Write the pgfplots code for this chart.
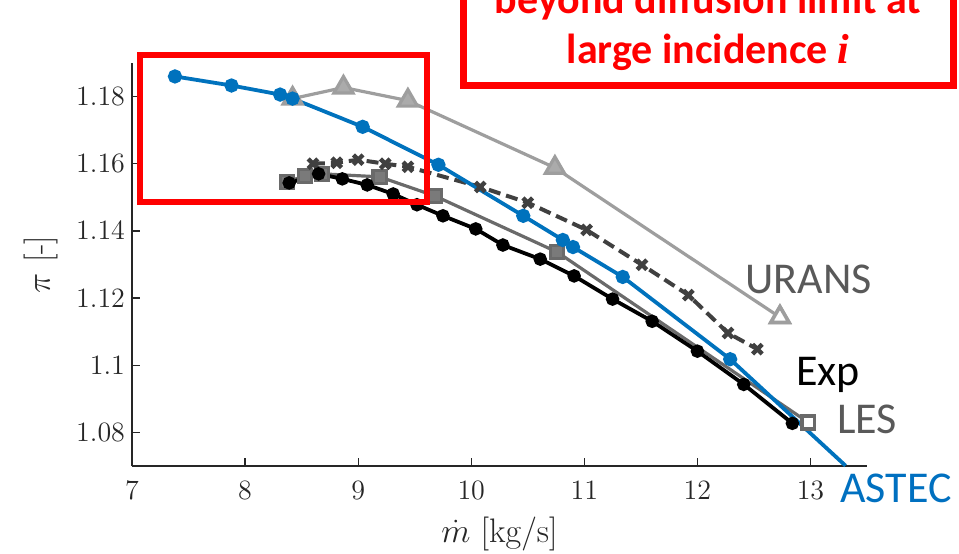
\RequirePackage{fix-cm}
\documentclass[border=0pt]{standalone}
\usepackage{fontspec}
\usepackage{pgfplots}
\pgfplotsset{compat=1.18}
\newfontfamily\carlito{Carlito}
\newfontfamily\serifi{Liberation Serif}

\definecolor{astec}{HTML}{0072BD}
\definecolor{astectxt}{HTML}{0070C0}
\definecolor{lesgray}{HTML}{6A6A6A}
\definecolor{lesfill}{HTML}{7A7A7A}
\definecolor{uransgray}{HTML}{9E9E9E}
\definecolor{uransfill}{HTML}{ABABAB}
\definecolor{darkdash}{HTML}{404040}
\definecolor{axgray}{HTML}{262626}
\definecolor{txtgray}{HTML}{595959}

\begin{document}
\begin{tikzpicture}
\begin{axis}[
  name=ax,
  scale only axis,
  width=367.5pt, height=201.5pt,
  xmin=7, xmax=13.5, ymin=1.07, ymax=1.19,
  axis x line*=bottom, axis y line*=left,
  axis line style={axgray, line width=0.6pt},
  xtick={7,8,9,10,11,12,13},
  ytick={1.08,1.1,1.12,1.14,1.16,1.18},
  tick align=inside,
  major tick length=4pt,
  tick style={axgray, line width=0.6pt},
  ticklabel style={font=\fontsize{14}{16}\selectfont, text=axgray},
  xticklabel style={yshift=-4pt},
  xlabel={$\dot{m}$ [kg/s]},
  ylabel={$\pi$ [-]},
  every axis x label/.style={at={(rel axis cs:0.5,-0.191)}, anchor=base,
    font=\fontsize{17}{20}\selectfont, text=axgray},
  every axis y label/.style={at={(rel axis cs:-0.1116,0.5)}, rotate=90, anchor=base,
    font=\fontsize{17}{20}\selectfont, text=axgray},
  clip=false,
]
% URANS
\addplot[uransgray, line width=1.6pt, mark=triangle*, mark size=5.5pt,
  mark options={fill=uransfill}] coordinates {
  (8.42,1.1794) (8.87,1.1827) (9.44,1.1788) (10.74,1.1588) (12.73,1.1143)};
\addplot[uransgray, line width=1.7pt, only marks, mark=triangle*, mark size=5.2pt,
  mark options={fill=white}] coordinates {(12.73,1.1143)};
% LES
\addplot[lesgray, line width=1.6pt, mark=square*, mark size=3.3pt,
  mark options={fill=lesfill}] coordinates {
  (8.37,1.1546) (8.53,1.1564) (8.68,1.1570) (9.19,1.1561) (9.68,1.1504)
  (10.76,1.1337) (12.98,1.0830)};
\addplot[lesgray, line width=1.7pt, only marks, mark=square*, mark size=3pt,
  mark options={fill=white}] coordinates {(12.98,1.0830)};
% dashed series
\addplot[darkdash, line width=2pt, dash pattern=on 6pt off 3pt, mark=x, mark size=3.4pt,
  mark options={solid, line width=2.2pt}] coordinates {
  (8.60,1.1600) (8.81,1.1603) (9.00,1.1612) (9.24,1.1600) (9.44,1.1591)
  (10.08,1.1531) (10.50,1.1484) (11.02,1.1403) (11.51,1.1299) (11.92,1.1209)
  (12.27,1.1096) (12.53,1.1048)};
% Exp
\addplot[black, line width=1.9pt, mark=*, mark size=2.4pt] coordinates {
  (8.39,1.1543) (8.65,1.1570) (8.86,1.1555) (9.08,1.1537) (9.31,1.1510)
  (9.52,1.1478) (9.75,1.1445) (10.04,1.1406) (10.28,1.1358) (10.61,1.1316)
  (10.91,1.1266) (11.25,1.1197) (11.60,1.1131) (12.00,1.1042) (12.41,1.0943)
  (12.84,1.0827)};
% ASTEC
\addplot[astec, line width=1.9pt, mark=*, mark size=2.6pt] coordinates {
  (7.38,1.1860) (7.88,1.1833) (8.31,1.1806) (8.42,1.1794) (9.04,1.1710)
  (9.71,1.1597) (10.46,1.1445) (10.81,1.1373) (10.90,1.1352) (11.34,1.1263)
  (12.29,1.1018)};
\addplot[astec, line width=1.9pt] coordinates {(12.29,1.1018) (13.31,1.0701)};
\end{axis}

% annotations, in pt from the lower left corner of the axis
\begin{scope}[shift={(ax.south west)}, x=1pt, y=1pt]
  \draw[red, line width=3pt] (4,132.25) rectangle (147.5,205.75);
  \draw[red, line width=3.5pt] (165.5,190.5) rectangle (410.5,263);
  \node[red, anchor=base, inner sep=0pt, font=\carlito\bfseries\fontsize{21}{25}\selectfont]
    at (288,226.5) {beyond diffusion limit at};
  \node[red, anchor=base, inner sep=0pt, font=\carlito\bfseries\fontsize{21}{25}\selectfont]
    at (288,201.5) {large incidence {\serifi\bfseries\itshape i}};
  \node[txtgray, anchor=base west, inner sep=0pt, font=\carlito\fontsize{22}{26}\selectfont]
    at (306.5,86.5) {URANS};
  \node[black, anchor=base west, inner sep=0pt, font=\carlito\fontsize{22}{26}\selectfont]
    at (332,40.5) {Exp};
  \node[txtgray, anchor=base west, inner sep=0pt, font=\carlito\fontsize{22}{26}\selectfont]
    at (352.5,16.5) {LES};
  \node[astectxt, anchor=base west, inner sep=0pt, font=\carlito\fontsize{22}{26}\selectfont]
    at (354,-18) {ASTEC};
  \pgfresetboundingbox
  \path[use as bounding box] (-66,-43.5) rectangle (413.5,233);
\end{scope}
\end{tikzpicture}
\end{document}
